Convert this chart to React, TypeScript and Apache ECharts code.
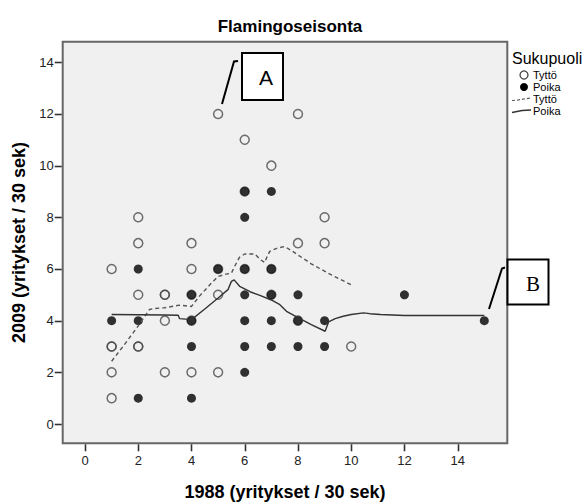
import React, { useEffect, useRef } from "react";
import * as echarts from "echarts";

const FONT = '"Liberation Sans", Arial, sans-serif';

const chartTitle = "Flamingoseisonta";
const xName = "1988 (yritykset / 30 sek)";
const yName = "2009 (yritykset / 30 sek)";
const legendTitle = "Sukupuoli";
const groupNames = ["Tyttö", "Poika"];

const xTicks = [0, 2, 4, 6, 8, 10, 12, 14];
const yTicks = [0, 2, 4, 6, 8, 10, 12, 14];

// Tyttö (open circles) [1988, 2009]
const girlsPoints: number[][] = [
  [1, 6], [1, 3], [1, 3], [1, 2], [1, 1],
  [2, 8], [2, 7], [2, 5], [2, 3], [2, 3],
  [3, 5], [3, 5], [3, 4], [3, 2],
  [4, 7], [4, 6], [4, 5], [4, 4], [4, 2],
  [5, 12], [5, 6], [5, 5], [5, 2],
  [6, 11], [6, 9], [6, 6],
  [7, 10], [7, 6], [7, 5],
  [8, 12], [8, 7], [8, 4],
  [9, 8], [9, 7],
  [10, 3],
];

// Poika (filled circles)
const boysPoints: number[][] = [
  [1, 4],
  [2, 6], [2, 4], [2, 1],
  [4, 5], [4, 4], [4, 3], [4, 1],
  [5, 6],
  [6, 9], [6, 8], [6, 6], [6, 5], [6, 4], [6, 3], [6, 2],
  [7, 9], [7, 6], [7, 5], [7, 4], [7, 3],
  [8, 5], [8, 4], [8, 3],
  [9, 4], [9, 3],
  [12, 5],
  [15, 4],
];

// Loess fit lines
const girlsFit: number[][] = [
  [1, 2.43], [1.5, 3.1], [2, 3.8], [2.42, 4.43], [2.6, 4.47], [3, 4.5],
  [3.55, 4.6], [4, 4.55], [4.3, 4.95], [4.7, 5.4], [5, 5.71], [5.3, 5.8],
  [5.5, 5.84], [5.62, 6.1], [5.8, 6.45], [6, 6.58], [6.38, 6.58], [6.6, 6.35],
  [6.75, 6.25], [6.85, 6.5], [6.94, 6.68], [7.2, 6.8], [7.5, 6.87], [7.8, 6.68],
  [8.5, 6.2], [9.2, 5.8], [10, 5.39],
];

const boysFit: number[][] = [
  [1, 4.24], [2, 4.23], [3, 4.22], [3.5, 4.21], [3.55, 4.08], [4, 4.04],
  [4.5, 4.45], [5, 4.88], [5.37, 5.2], [5.5, 5.52], [5.6, 5.58], [5.81, 5.33],
  [6.2, 5.12], [6.57, 4.98], [7, 4.8], [7.32, 4.62], [7.57, 4.36], [8, 4.12],
  [8.5, 3.85], [9.02, 3.59], [9.15, 3.95], [9.4, 4.08], [9.7, 4.17], [10, 4.24],
  [10.46, 4.3], [10.7, 4.27], [11.1, 4.24], [12, 4.2], [15, 4.2],
];

// data extent of the plotting frame
const xMin = -0.838;
const xMax = 15.864;
const yMin = -0.747;
const yMax = 14.797;

export default function App() {
  const ref = useRef<HTMLDivElement>(null);

  useEffect(() => {
    document.body.style.margin = "0";
    if (!ref.current) return;
    const chart = echarts.init(ref.current, null, { renderer: "svg" });

    const L = 62.7, T = 41.7, R = 507.3, B = 443.3;
    const W = 588, H = 504;
    const TICK_LEN = 7;

    const legendText = (x: number, y: number, text: string, size = 11) => ({
      type: "text",
      x,
      y,
      style: { text, fill: "#000", font: `${size}px ${FONT}`, textVerticalAlign: "middle", textAlign: "left" },
    });

    const nameStyle = { fontSize: 18, fontWeight: "bold", color: "#000", fontFamily: FONT };
    const labelStyle = { fontSize: 13, color: "#222", fontFamily: FONT };

    const baseGraphic: any[] = [
      // legend
      legendText(512, 58, legendTitle, 16),
      { type: "circle", shape: { cx: 524, cy: 75, r: 4 }, style: { fill: "none", stroke: "#444", lineWidth: 1.3 } },
      legendText(533, 75, groupNames[0]),
      { type: "circle", shape: { cx: 524, cy: 87, r: 4 }, style: { fill: "#000" } },
      legendText(533, 87, groupNames[1]),
      {
        type: "polyline",
        shape: { points: [[512, 100.5], [518, 100], [524, 99], [531, 98]] },
        style: { stroke: "#555", lineWidth: 1.2, lineDash: [3, 2], fill: "none" },
      },
      legendText(533, 99, groupNames[0]),
      {
        type: "polyline",
        shape: { points: [[512, 112.5], [517, 111.5], [522, 110.5], [531, 110]] },
        style: { stroke: "#333", lineWidth: 1.3, fill: "none" },
      },
      legendText(533, 111, groupNames[1]),
      // annotation A
      {
        type: "polyline",
        shape: { points: [[222, 104], [234, 61.5], [238, 61]] },
        style: { stroke: "#000", lineWidth: 2, fill: "none" },
        z: 10,
      },
      { type: "rect", shape: { x: 242, y: 53, width: 41, height: 47 }, style: { fill: "#fff", stroke: "#000", lineWidth: 2 }, z: 10 },
      {
        type: "text", x: 266, y: 77,
        style: { text: "A", font: '21px "Liberation Sans", Arial, sans-serif', fill: "#000", textAlign: "center", textVerticalAlign: "middle" },
        z: 11,
      },
      // annotation B
      {
        type: "polyline",
        shape: { points: [[489, 309], [502, 268.5], [505, 267.5]] },
        style: { stroke: "#000", lineWidth: 2, fill: "none" },
        z: 10,
      },
      { type: "rect", shape: { x: 507.5, y: 259.5, width: 41, height: 45 }, style: { fill: "#fff", stroke: "#000", lineWidth: 2 }, z: 10 },
      {
        type: "text", x: 533, y: 284,
        style: { text: "B", font: '21px "Liberation Serif", "Times New Roman", serif', fill: "#000", textAlign: "center", textVerticalAlign: "middle" },
        z: 11,
      },
    ];

    const option: any = {
      animation: false,
      backgroundColor: "#ffffff",
      textStyle: { fontFamily: FONT },
      title: {
        text: chartTitle,
        left: 285,
        top: 13,
        textAlign: "center",
        textStyle: { fontSize: 17, fontWeight: "bold", color: "#000", fontFamily: FONT },
      },
      grid: {
        left: L, top: T, right: W - R, bottom: H - B,
        show: true, backgroundColor: "#f0f0f0", borderColor: "#666666", borderWidth: 2,
        containLabel: false, outerBoundsMode: "none",
      },
      xAxis: {
        type: "value", min: xMin, max: xMax,
        name: xName, nameLocation: "middle", nameGap: 40, nameTextStyle: nameStyle,
        axisLine: { show: false, onZero: false },
        splitLine: { show: false },
        axisTick: { show: false },
        axisLabel: { ...labelStyle, margin: 11, customValues: xTicks },
      },
      yAxis: {
        type: "value", min: yMin, max: yMax,
        name: yName, nameLocation: "middle", nameGap: 32, nameTextStyle: nameStyle,
        axisLine: { show: false, onZero: false },
        splitLine: { show: false },
        axisTick: { show: false },
        axisLabel: { ...labelStyle, margin: 9, customValues: yTicks },
      },
      series: [
        {
          name: groupNames[0], type: "scatter",
          data: girlsPoints, symbol: "circle", symbolSize: 9,
          itemStyle: { color: "rgba(0,0,0,0)", borderColor: "#4a4a4a", borderWidth: 1.5 },
          z: 2,
        },
        {
          name: groupNames[1], type: "scatter",
          data: boysPoints, symbol: "circle", symbolSize: 9,
          itemStyle: { color: "#000" },
          z: 3,
        },
        {
          name: groupNames[0] + " fit", type: "line",
          data: girlsFit, showSymbol: false, symbol: "none",
          lineStyle: { color: "#555", width: 1.4, type: [4, 3] },
          z: 4,
        },
        {
          name: groupNames[1] + " fit", type: "line",
          data: boysFit, showSymbol: false, symbol: "none",
          lineStyle: { color: "#333", width: 1.4 },
          z: 4,
        },
      ],
      graphic: baseGraphic,
    };

    chart.setOption(option);

    // tick marks placed through the chart's own axis scales
    const toX = (v: number) => {
      const p = chart.convertToPixel({ xAxisIndex: 0 }, v) as any;
      const n = Array.isArray(p) ? p[0] : p;
      return Number.isFinite(n) ? n : L + ((v - xMin) / (xMax - xMin)) * (R - L);
    };
    const toY = (v: number) => {
      const p = chart.convertToPixel({ yAxisIndex: 0 }, v) as any;
      const n = Array.isArray(p) ? p[1] : p;
      return Number.isFinite(n) ? n : B - ((v - yMin) / (yMax - yMin)) * (B - T);
    };
    const tickGraphic: any[] = [];
    xTicks.forEach((v) => {
      const x = Math.round(toX(v)) + 0.5;
      tickGraphic.push({
        type: "polyline",
        shape: { points: [[x, B + 1], [x, B + 1 + TICK_LEN]] },
        style: { stroke: "#333", lineWidth: 1.6, fill: "none" },
        z: 20,
      });
    });
    yTicks.forEach((v) => {
      const y = Math.round(toY(v)) + 0.5;
      tickGraphic.push({
        type: "polyline",
        shape: { points: [[L - 1, y], [L - 1 - TICK_LEN, y]] },
        style: { stroke: "#333", lineWidth: 1.6, fill: "none" },
        z: 20,
      });
    });
    chart.setOption({ graphic: [...baseGraphic, ...tickGraphic] });

    return () => chart.dispose();
  }, []);

  return <div ref={ref} style={{ width: 588, height: 504 }} />;
}
